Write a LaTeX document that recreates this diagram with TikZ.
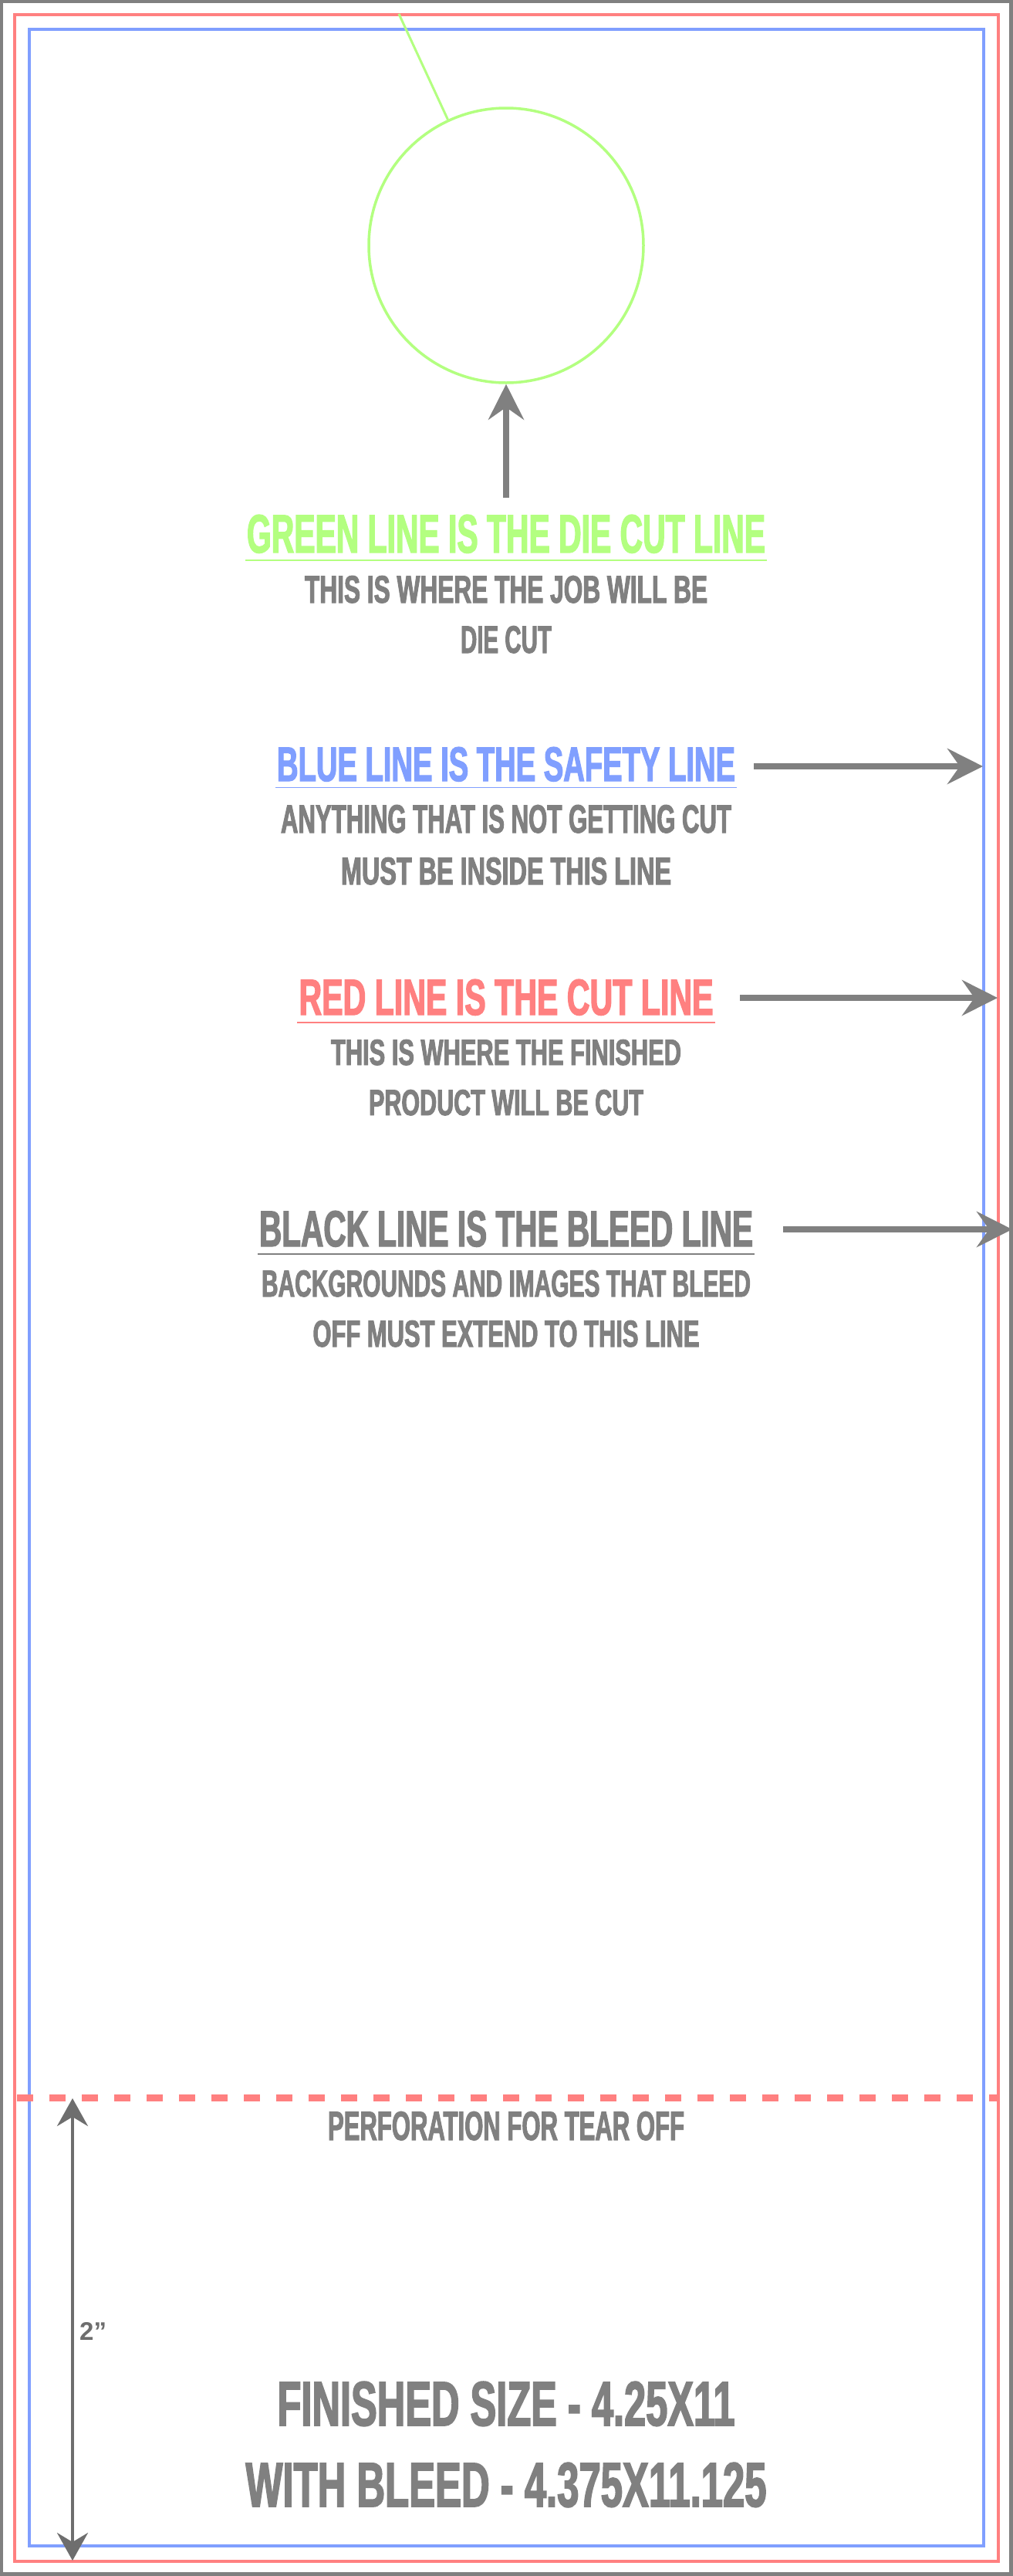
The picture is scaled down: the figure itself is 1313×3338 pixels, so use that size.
\documentclass[tikz,border=0pt]{standalone}
\usepackage{fontspec}
\usepackage{graphicx}
\setmainfont{Liberation Sans}
\newfontfamily\cond{Liberation Sans}[FakeStretch=0.64,FakeBold=2]
\usetikzlibrary{arrows.meta}
\definecolor{gline}{HTML}{B3FF80}
\definecolor{bline}{HTML}{809FFF}
\definecolor{rline}{HTML}{FF8080}
\definecolor{kline}{HTML}{808080}
\definecolor{dimc}{HTML}{6E6E6E}
\newcommand{\fitline}[3]{\resizebox{#1pt}{#2pt}{#3}}
\begin{document}
\begin{tikzpicture}[x=1pt,y=-1pt,
  head/.style={font=\cond\bfseries\fontsize{66}{66}\selectfont, inner sep=0pt, anchor=base},
  sub/.style={font=\cond\bfseries\fontsize{50}{50}\selectfont, text=kline, inner sep=0pt, anchor=base},
  pointer/.style={draw=kline, line width=7.5pt, -{Stealth[length=46pt,width=46pt,inset=16pt]}},
  uline/.style={line width=1.8pt}]
\useasboundingbox (0,0) rectangle (1313,3338);
\fill[white] (0,0) rectangle (1313,3338);
% frames
\draw[kline, line width=4.5pt] (2.2,2.2) rectangle (1310.5,3335.5);
\draw[rline, line width=4pt] (19,19) rectangle (1294,3319);
\draw[bline, line width=4pt] (38,38) rectangle (1275,3299);
% die cut hole
\node[circle, draw=gline, line width=3.5pt, minimum size=356pt, inner sep=0pt] (hole) at (656,318) {};
\coordinate (stringtop) at (517,18);
\draw[gline, line width=3pt] (stringtop) -- (hole);
\coordinate (upfoot) at (656,645);
\draw[pointer] (upfoot) -- (hole.south);
% green
\node[head, text=gline] (ghead) at (656,716) {\fitline{672}{49}{GREEN LINE IS THE DIE CUT LINE}};
\draw[gline, uline] ([shift={(-2,10)}]ghead.base west) -- ([shift={(2,10)}]ghead.base east);
\node[sub] (gsub1) at (656,781) {\fitline{522}{35}{THIS IS WHERE THE JOB WILL BE}};
\node[sub] (gsub2) at (656,846) {\fitline{118}{35}{DIE CUT}};
% blue
\node[head, text=bline] (bhead) at (656,1012) {\fitline{594}{44}{BLUE LINE IS THE SAFETY LINE}};
\draw[bline, uline] ([shift={(-2,8.5)}]bhead.base west) -- ([shift={(2,8.5)}]bhead.base east);
\node[sub] (bsub1) at (656,1079) {\fitline{584}{36}{ANYTHING THAT IS NOT GETTING CUT}};
\node[sub] (bsub2) at (656,1146) {\fitline{428}{35}{MUST BE INSIDE THIS LINE}};
\coordinate (bstart) at (977,993);
\coordinate (btip) at (1274,993);
\draw[pointer] (bstart) -- (btip);
% red
\node[head, text=rline] (rhead) at (656,1315) {\fitline{537}{46}{RED LINE IS THE CUT LINE}};
\draw[rline, uline] ([shift={(-2,10)}]rhead.base west) -- ([shift={(2,10)}]rhead.base east);
\node[sub] (rsub1) at (656,1380) {\fitline{454}{33}{THIS IS WHERE THE FINISHED}};
\node[sub] (rsub2) at (656,1445) {\fitline{356}{33}{PRODUCT WILL BE CUT}};
\coordinate (rstart) at (959,1293);
\coordinate (rtip) at (1293,1293);
\draw[pointer] (rstart) -- (rtip);
% black
\node[head, text=kline] (khead) at (656,1615) {\fitline{640}{46}{BLACK LINE IS THE BLEED LINE}};
\draw[kline, uline] ([shift={(-2,10)}]khead.base west) -- ([shift={(2,10)}]khead.base east);
\node[sub] (ksub1) at (656,1680) {\fitline{634}{34}{BACKGROUNDS AND IMAGES THAT BLEED}};
\node[sub] (ksub2) at (656,1745) {\fitline{501}{34}{OFF MUST EXTEND TO THIS LINE}};
\coordinate (kstart) at (1015,1593);
\coordinate (ktip) at (1312,1593);
\draw[pointer] (kstart) -- (ktip);
% perforation
\coordinate (perfL) at (22,2718.5);
\coordinate (perfR) at (1294,2718.5);
\draw[rline, line width=8.5pt, dash pattern=on 21pt off 21pt] (perfL) -- (perfR);
\node[sub] (perf) at (656,2773) {\fitline{462}{37}{PERFORATION FOR TEAR OFF}};
% dimension
\coordinate (dimtop) at (94,2719);
\coordinate (dimbot) at (94,3318);
\draw[dimc, line width=4pt, {Stealth[length=36pt,width=40pt,inset=12pt]}-{Stealth[length=36pt,width=40pt,inset=12pt]}] (dimtop) -- (dimbot);
\node[font=\bfseries\fontsize{33}{33}\selectfont, text=dimc, inner sep=0pt, anchor=base west] (dimlabel) at (103,3032) {2”};
% sizes
\node[sub] (fin) at (656,3143) {\fitline{593}{57}{FINISHED SIZE - 4.25X11}};
\node[sub] (bleed) at (656,3248) {\fitline{675}{57}{WITH BLEED - 4.375X11.125}};
\end{tikzpicture}
\end{document}
